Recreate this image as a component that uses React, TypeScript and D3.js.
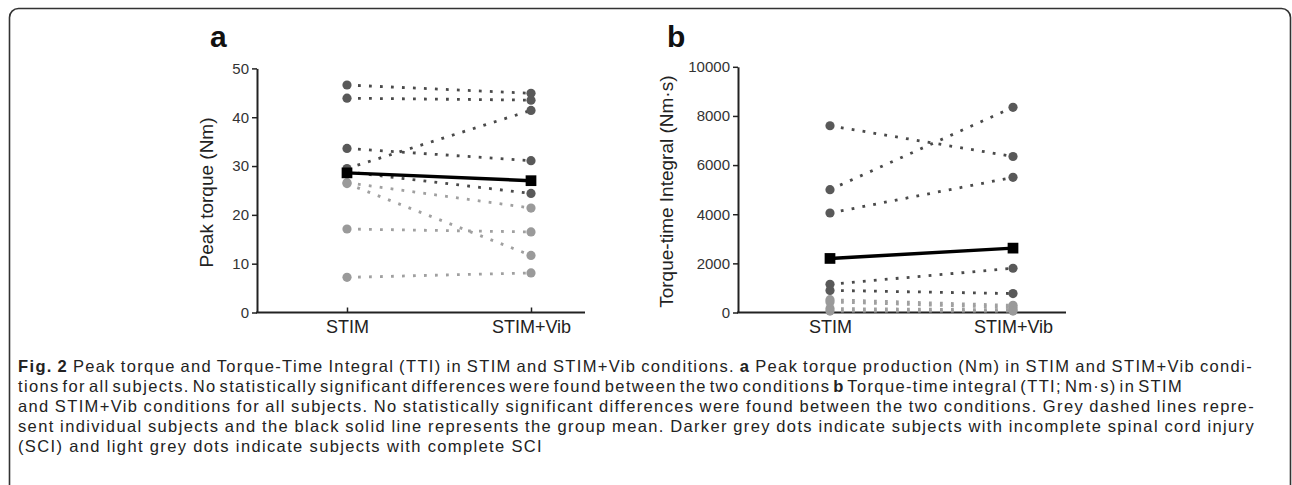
import React, { useRef, useEffect } from 'react';
import * as d3 from 'd3';

// conditions and subjects
const conditions = ['STIM', 'STIM+Vib'];
const subjectGroup = ['incomplete', 'incomplete', 'incomplete', 'incomplete', 'incomplete',
                      'complete', 'complete', 'complete', 'complete'];

// panel a: peak torque (Nm)
const peakStim = [46.6, 43.9, 33.6, 29.5, 28.8, 26.6, 26.4, 17.1, 7.2];
const peakVib  = [44.9, 43.5, 31.1, 41.4, 24.4, 21.4, 11.7, 16.5, 8.1];
const peakMean = [28.6, 27.0];
const peakTicks = [0, 10, 20, 30, 40, 50];

// panel b: torque-time integral (Nm·s)
const ttiStim = [7600, 5000, 4050, 1150, 900, 520, 430, 160, 60];
const ttiVib  = [6350, 8350, 5500, 1800, 770, 290, 200, 110, 60];
const ttiMean = [2200, 2620];
const ttiTicks = [0, 2000, 4000, 6000, 8000, 10000];

// caption lines, each a list of [text, bold]
const captionLines = [
    [['Fig. 2', true], [' Peak torque and Torque-Time Integral (TTI) in STIM and STIM+Vib conditions. ', false], ['a', true], [' Peak torque production (Nm) in STIM and STIM+Vib condi-', false]],
    [['tions for all subjects. No statistically significant differences were found between the two conditions ', false], ['b', true], [' Torque-time integral (TTI; Nm·s) in STIM', false]],
    [['and STIM+Vib conditions for all subjects. No statistically significant differences were found between the two conditions. Grey dashed lines repre-', false]],
    [['sent individual subjects and the black solid line represents the group mean. Darker grey dots indicate subjects with incomplete spinal cord injury', false]],
    [['(SCI) and light grey dots indicate subjects with complete SCI', false]],
];
const captionEnds = [1253, 1183, 1255, 1255, 543];

const baseY = 312.5;
const darkDot = '#595959';
const lightDot = '#9a9a9a';
const darkLine = '#4a4a4a';
const lightLine = '#a0a0a0';
const axisFont = '"Liberation Sans", Arial, sans-serif';
const capX = 18;

const panels = [
    { letter: 'a', letterX: 210, title: 'Peak torque (Nm)', titleX: 213, stim: peakStim, vib: peakVib, mean: peakMean,
      ticks: peakTicks, max: 50, top: 68.4, axisX: 257, axisEnd: 585, px: [347, 531] },
    { letter: 'b', letterX: 667, title: 'Torque-time Integral (Nm·s)', titleX: 673, stim: ttiStim, vib: ttiVib, mean: ttiMean,
      ticks: ttiTicks, max: 10000, top: 66.8, axisX: 738, axisEnd: 1066, px: [830, 1013] },
];

const drawPanel = (g, p) => {
    const y = d3.scaleLinear([0, p.max], [baseY, p.top]);
    const x = d3.scalePoint(conditions, p.px);
    const line = d3.line();

    // panel letter
    g.append('text')
     .attr('x', p.letterX).attr('y', 47)
     .attr('font-family', axisFont)
     .attr('font-weight', 'bold').attr('font-size', 30)
     .attr('fill', '#111')
     .text(p.letter);

    // y title
    g.append('text')
     .attr('transform', `translate(${p.titleX} ${(baseY + p.top) / 2 + 2}) rotate(-90)`)
     .attr('text-anchor', 'middle')
     .attr('font-family', axisFont)
     .attr('font-size', 19).attr('fill', '#222')
     .text(p.title);

    // y axis
    const yAxis = g.append('g')
     .attr('transform', `translate(${p.axisX},0)`)
     .call(d3.axisLeft(y).tickValues(p.ticks).tickFormat(d3.format('d'))
             .tickSize(5).tickSizeOuter(0).tickPadding(3));
    yAxis.select('.domain').attr('stroke', '#222').attr('stroke-width', 2);
    yAxis.selectAll('.tick line').attr('stroke', '#222').attr('stroke-width', 1.5);
    yAxis.selectAll('.tick text')
         .attr('font-family', axisFont)
         .attr('font-size', 15).attr('fill', '#333');

    // x axis
    g.append('line')
     .attr('x1', p.axisX - 1).attr('x2', p.axisEnd)
     .attr('y1', baseY).attr('y2', baseY)
     .attr('stroke', '#222').attr('stroke-width', 2);
    const xAxis = g.append('g')
     .attr('transform', `translate(0,${baseY})`)
     .call(d3.axisBottom(x).tickSizeInner(-5).tickSizeOuter(0).tickPadding(8));
    xAxis.select('.domain').remove();
    xAxis.selectAll('.tick line').attr('stroke', '#222').attr('stroke-width', 1.5);
    xAxis.selectAll('.tick text')
         .attr('font-family', axisFont)
         .attr('font-size', 18).attr('fill', '#222');

    const subjects = p.stim.map((v, i) => ({ stim: v, vib: p.vib[i], group: subjectGroup[i] }));

    // individual subjects, dotted
    g.append('g').selectAll('path')
     .data(subjects)
     .join('path')
     .attr('d', d => line([[x('STIM'), y(d.stim)], [x('STIM+Vib'), y(d.vib)]]))
     .attr('fill', 'none')
     .attr('stroke', d => d.group === 'incomplete' ? darkLine : lightLine)
     .attr('stroke-width', 2.8)
     .attr('stroke-dasharray', '2.8 8.2');

    // subject dots
    const dots = subjects.flatMap(d => [
        { c: 'STIM', v: d.stim, group: d.group },
        { c: 'STIM+Vib', v: d.vib, group: d.group },
    ]);
    g.append('g').selectAll('circle')
     .data(dots.filter(d => d.group === 'complete').concat(dots.filter(d => d.group === 'incomplete')))
     .join('circle')
     .attr('cx', d => x(d.c))
     .attr('cy', d => y(d.v))
     .attr('r', 4.6)
     .attr('fill', d => d.group === 'incomplete' ? darkDot : lightDot);

    // group mean
    g.append('path')
     .attr('d', line(conditions.map((c, i) => [x(c), y(p.mean[i])])))
     .attr('fill', 'none').attr('stroke', '#000').attr('stroke-width', 3.5);
    g.append('g').selectAll('path')
     .data(conditions)
     .join('path')
     .attr('transform', (c, i) => `translate(${x(c)},${y(p.mean[i])})`)
     .attr('d', d3.symbol(d3.symbolSquare, 115)())
     .attr('fill', '#000');
};

const App = () => {
    const ref = useRef(null);

    useEffect(() => {
        const svg = d3.select(ref.current);
        svg.selectAll('*').remove();

        // frame
        svg.append('rect')
           .attr('x', 9.5).attr('y', 8.5)
           .attr('width', 1281).attr('height', 520)
           .attr('rx', 9)
           .attr('fill', 'none').attr('stroke', '#333').attr('stroke-width', 1.6);

        panels.forEach(p => drawPanel(svg.append('g'), p));

        // caption: letter spacing from the last line, then justify by word spacing
        const cap = svg.append('g')
                       .attr('font-family', '"Liberation Sans", Arial, sans-serif')
                       .attr('font-size', 16.5)
                       .attr('fill', '#222');
        const texts = captionLines.map((segs, i) => {
            const t = cap.append('text').attr('x', capX).attr('y', 372 + i * 20);
            segs.forEach(([s, b]) => {
                t.append('tspan').attr('font-weight', b ? 'bold' : null).text(s);
            });
            return t;
        });
        const lastStr = captionLines[4].map(s => s[0]).join('');
        const lastNat = texts[4].node().getComputedTextLength();
        const ls = Math.max(0, (captionEnds[4] - capX - lastNat) / lastStr.length);
        texts.forEach((t, i) => {
            t.attr('letter-spacing', ls);
            if (i === 4) return;
            const str = captionLines[i].map(s => s[0]).join('');
            const natural = t.node().getComputedTextLength();
            const spaces = str.split(' ').length - 1;
            t.attr('word-spacing', (captionEnds[i] - capX - natural) / spaces);
        });
    }, []);

    return (
        <svg ref={ref} width={1292} height={485}
             style={{ position: 'absolute', left: 0, top: 0, background: '#fff' }} />
    );
};

export default App;
